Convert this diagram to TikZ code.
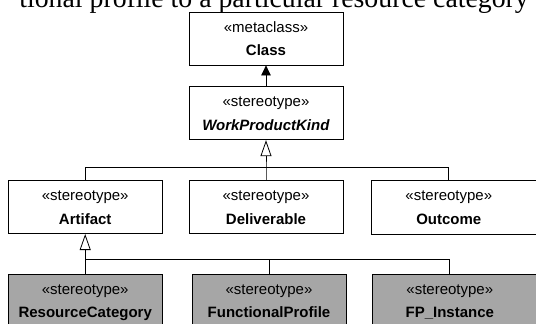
\documentclass[tikz,border=0pt]{standalone}
\usepackage{fontspec}
\usetikzlibrary{positioning,arrows.meta}
\newfontfamily\umlfamily{Liberation Sans}
\newfontfamily\textserif{Liberation Serif}
\newcommand\umlfont{\umlfamily\fontsize{15}{23.5}\selectfont}
\newcommand\runningfont{\textserif\fontsize{27.8}{30}\selectfont}
\tikzset{
    stereo/.style = {
        rectangle,
        draw,
        line width=0.8pt,
        minimum width=154pt,
        minimum height=53pt,
        inner sep=0pt,
        align=center,
        font=\umlfont,
        text height=43.5pt,
        text depth=9.5pt,
        },
    profile/.style = {
        stereo,
        fill = black!35,
        },
    open right/.style = {
        draw=none,
        },
    border/.style = {
        line width=0.8pt,
        },
    extension/.style = {
        line width=0.8pt,
        -{Triangle[length=10pt, width=9.5pt]},
        },
    generalization/.style = {
        line width=0.8pt,
        -{Triangle[open, length=16pt, width=11pt, fill=white]},
        },
    branch/.style = {
        line width=0.8pt,
        },
}

\begin{document}
\begin{tikzpicture}[x=1pt, y=-1pt, node distance=40pt and 26pt]
            \path[use as bounding box, clip] (0,0) rectangle (536,324);

            \node[anchor=base east, font=\runningfont, inner sep=0pt] (running) at (529,7)
                {tional profile to a particular resource category};

            \node[stereo] (class) at (266,38.5) {«metaclass»\\\textbf{Class}};
            \node[stereo, below=21pt of class] (kind) {«stereotype»\\\textbf{\textit{WorkProductKind}}};
            \node[stereo, below=of kind] (deliverable) {«stereotype»\\\textbf{Deliverable}};
            \node[stereo, left=of deliverable] (artifact) {«stereotype»\\\textbf{Artifact}};
            \node[stereo, open right, right=28pt of deliverable] (outcome) {«stereotype»\\\textbf{Outcome}};
            \node[profile, below=of artifact] (rescat) {«stereotype»\\\textbf{ResourceCategory}};
            \node[profile, right=29pt of rescat] (funcprof) {«stereotype»\\\textbf{FunctionalProfile}};
            \node[profile, open right, right=26pt of funcprof] (fpinst) {«stereotype»\\\textbf{FP\_Instance}};

            % boxes cut at the right edge
            \fill[black!35] (fpinst.north east) rectangle ([xshift=20pt]fpinst.south east);
            \draw[border] ([xshift=20pt]outcome.north east) -| (outcome.south west) -- ([xshift=20pt]outcome.south east);
            \draw[border] ([xshift=20pt]fpinst.north east) -| (fpinst.south west) -- ([xshift=20pt]fpinst.south east);

            \coordinate (kindbus) at (kind.south |- 0,167);
            \coordinate (artbus) at (artifact.south |- 0,259);

            \path[extension] (kind) edge (class);
            \draw[generalization] (deliverable.north) -- (kindbus) -- (kind.south);
            \draw[branch] (artifact.north) |- (kindbus);
            \draw[branch] (outcome.north) |- (kindbus);
            \draw[generalization] (rescat.north) -- (artbus) -- (artifact.south);
            \draw[branch] (funcprof.north) |- (artbus);
            \draw[branch] (fpinst.north) |- (artbus);
        \end{tikzpicture}
\end{document}
